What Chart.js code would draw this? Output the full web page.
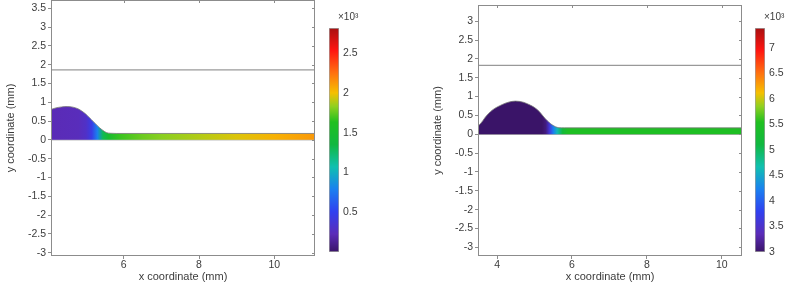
<!DOCTYPE html>
<html>
<head>
<meta charset="utf-8">
<script src="https://cdn.jsdelivr.net/npm/chart.js@4.4.1/dist/chart.umd.min.js"></script>
<style>
  html, body { margin: 0; padding: 0; background: #fff; }
  #wrap { position: relative; width: 790px; height: 285px; overflow: hidden; }
  #wrap canvas { position: absolute; top: 0; }
</style>
</head>
<body>
<div id="wrap">
  <canvas id="left-plot" width="316" height="285" style="left:0px"></canvas>
  <canvas id="left-bar" width="36" height="285" style="left:329px"></canvas>
  <canvas id="right-plot" width="316" height="285" style="left:427px"></canvas>
  <canvas id="right-bar" width="36" height="285" style="left:755px"></canvas>
</div>
<script>
// ---- left panel: surface profile (mm) and field value along x (x10^3)
const leftX = [4.07, 4.2, 4.35, 4.5, 4.65, 4.8, 4.95, 5.05, 5.15, 5.25, 5.35, 5.45, 5.55, 5.65, 5.8, 8, 11.08];
const leftY = [0.81, 0.85, 0.875, 0.885, 0.87, 0.82, 0.72, 0.63, 0.53, 0.43, 0.33, 0.25, 0.19, 0.175, 0.17, 0.17, 0.17];
const leftColorX = [4.07, 4.8, 5.0, 5.15, 5.3, 5.45, 5.6, 5.9, 6.5, 7, 8, 9, 10, 11.08];
const leftColorVal = [0.22, 0.24, 0.3, 0.45, 0.8, 1.3, 1.5, 1.68, 1.77, 1.82, 1.89, 1.96, 2.05, 2.13];
const leftLineY = 1.86;
const leftXRange = [4.07, 11.08];
const leftYRange = [-3.09, 3.72];
const leftXTicks = [6, 8, 10];
const leftYTicks = [-3, -2.5, -2, -1.5, -1, -0.5, 0, 0.5, 1, 1.5, 2, 2.5, 3, 3.5];
const leftBarRange = [0, 2.82];
const leftBarTicks = [0.5, 1, 1.5, 2, 2.5];

// ---- right panel
const rightX = [3.49, 3.55, 3.69, 3.87, 4.14, 4.3, 4.49, 4.7, 4.85, 5.0, 5.12, 5.29, 5.47, 5.65, 5.8, 10.54];
const rightY = [0.22, 0.27, 0.46, 0.64, 0.79, 0.85, 0.88, 0.85, 0.79, 0.71, 0.61, 0.41, 0.25, 0.175, 0.17, 0.17];
const rightColorX = [3.49, 5.2, 5.3, 5.4, 5.5, 5.6, 5.75, 5.9, 10.54];
const rightColorVal = [3.0, 3.0, 3.1, 3.6, 4.2, 4.6, 5.2, 5.5, 5.5];
const rightLineY = 1.83;
const rightXRange = [3.49, 10.54];
const rightYRange = [-3.23, 3.43];
const rightXTicks = [4, 6, 8, 10];
const rightYTicks = [-3, -2.5, -2, -1.5, -1, -0.5, 0, 0.5, 1, 1.5, 2, 2.5, 3];
const rightBarRange = [3, 7.39];
const rightBarTicks = [3, 3.5, 4, 4.5, 5, 5.5, 6, 6.5, 7];

// rainbow colour map (style)
const cmapAt = [0, 0.08, 0.18, 0.28, 0.38, 0.48, 0.58, 0.65, 0.71, 0.8, 0.9, 1];
const cmapHex = ['#3a1468', '#5b2cb8', '#3040f0', '#1a80f0', '#10c0b0', '#10b840', '#20c020', '#90d020', '#f5c000', '#ff7010', '#ff1510', '#a81010'];

const textColor = '#3c3c3c';
const frameColor = '#8c8c8c';

function hexRgb(h) {
    return [parseInt(h.substr(1, 2), 16), parseInt(h.substr(3, 2), 16), parseInt(h.substr(5, 2), 16)];
}

function colorFor(v, range) {
    let t = (v - range[0]) / (range[1] - range[0]);
    t = Math.max(0, Math.min(1, t));
    for (let i = 1; i < cmapAt.length; i++) {
        if (t <= cmapAt[i]) {
            const f = (t - cmapAt[i - 1]) / (cmapAt[i] - cmapAt[i - 1]);
            const a = hexRgb(cmapHex[i - 1]), b = hexRgb(cmapHex[i]);
            const c = a.map((n, k) => Math.round(n + (b[k] - n) * f));
            return 'rgb(' + c.join(',') + ')';
        }
    }
    return cmapHex[cmapHex.length - 1];
}

function fieldGradient(chart, p) {
    if (!chart.chartArea) return null;
    const xs = chart.scales.x;
    const first = p.colorX[0], last = p.colorX[p.colorX.length - 1];
    const g = chart.ctx.createLinearGradient(xs.getPixelForValue(first), 0, xs.getPixelForValue(last), 0);
    p.colorX.forEach((x, i) => {
        g.addColorStop((x - first) / (last - first), colorFor(p.colorVal[i], p.barRange));
    });
    return g;
}

// frame round the plot with inward ticks on top and right
const framePlugin = {
    id: 'frame',
    afterDraw(chart) {
        const ctx = chart.ctx, a = chart.chartArea;
        ctx.save();
        ctx.strokeStyle = frameColor;
        ctx.lineWidth = 1;
        ctx.strokeRect(a.left + 0.5, a.top + 0.5, a.right - a.left - 1, a.bottom - a.top - 1);
        ctx.beginPath();
        chart.scales.x.ticks.forEach(t => {
            const px = Math.round(chart.scales.x.getPixelForValue(t.value)) + 0.5;
            ctx.moveTo(px, a.top);
            ctx.lineTo(px, a.top + 3);
        });
        chart.scales.y.ticks.forEach(t => {
            const py = Math.round(chart.scales.y.getPixelForValue(t.value)) + 0.5;
            ctx.moveTo(a.right, py);
            ctx.lineTo(a.right - 3, py);
        });
        ctx.stroke();
        ctx.restore();
    }
};

function makePlot(id, p) {
    const ctx = document.getElementById(id).getContext('2d');
    return new Chart(ctx, {
        type: 'line',
        data: {
            datasets: [{
                data: p.x.map((x, i) => ({ x: x, y: p.y[i] })),
                fill: 'origin',
                backgroundColor: c => fieldGradient(c.chart, p),
                borderColor: 'rgba(120,120,120,0.8)',
                borderWidth: 1,
                pointRadius: 0,
                cubicInterpolationMode: 'monotone'
            }, {
                data: [{ x: p.xRange[0], y: 0 }, { x: p.xRange[1], y: 0 }],
                borderColor: '#9a9a9a',
                borderWidth: 1,
                pointRadius: 0,
                fill: false
            }, {
                data: [{ x: p.xRange[0], y: p.lineY }, { x: p.xRange[1], y: p.lineY }],
                borderColor: '#808080',
                borderWidth: 1,
                pointRadius: 0,
                fill: false
            }]
        },
        options: {
            responsive: false,
            animation: false,
            layout: { padding: { top: p.padTop, right: 1, left: 0, bottom: 0 } },
            plugins: { legend: { display: false }, tooltip: { enabled: false } },
            scales: {
                x: {
                    type: 'linear',
                    min: p.xRange[0],
                    max: p.xRange[1],
                    afterBuildTicks: s => { s.ticks = p.xTicks.map(v => ({ value: v })); },
                    afterFit: s => { s.height = 29; s.paddingLeft = 0; s.paddingRight = 0; },
                    grid: { drawOnChartArea: false, tickLength: 3, color: frameColor },
                    border: { display: false },
                    ticks: { color: textColor, font: { family: 'Liberation Sans', size: 10.5 }, padding: 0, maxRotation: 0, callback: v => String(v) },
                    title: { display: true, text: 'x coordinate (mm)', color: textColor, font: { family: 'Liberation Sans', size: 11 }, padding: 1 }
                },
                y: {
                    type: 'linear',
                    min: p.yRange[0],
                    max: p.yRange[1],
                    afterBuildTicks: s => { s.ticks = p.yTicks.map(v => ({ value: v })); },
                    afterFit: s => { s.width = 51; s.paddingTop = 0; s.paddingBottom = 0; },
                    grid: { drawOnChartArea: false, tickLength: 3, color: frameColor },
                    border: { display: false },
                    ticks: { color: textColor, font: { family: 'Liberation Sans', size: 10.5 }, padding: 2, callback: v => String(v) },
                    title: { display: true, text: 'y coordinate (mm)', color: textColor, font: { family: 'Liberation Sans', size: 11 }, padding: 4 }
                }
            }
        },
        plugins: [framePlugin]
    });
}

const unitPlugin = {
    id: 'unit',
    afterDraw(chart) {
        const ctx = chart.ctx, a = chart.chartArea;
        ctx.save();
        ctx.fillStyle = textColor;
        ctx.font = '10px "Liberation Sans"';
        ctx.textAlign = 'left';
        ctx.textBaseline = 'middle';
        ctx.fillText('×10³', a.right - 1, a.top - 11);
        ctx.restore();
    }
};

function makeBar(id, range, ticks) {
    const ctx = document.getElementById(id).getContext('2d');
    return new Chart(ctx, {
        type: 'bar',
        data: {
            labels: [''],
            datasets: [{
                data: [[range[0], range[1]]],
                backgroundColor: c => {
                    const chart = c.chart;
                    if (!chart.chartArea) return null;
                    const ys = chart.scales.y;
                    const g = chart.ctx.createLinearGradient(0, ys.getPixelForValue(range[0]), 0, ys.getPixelForValue(range[1]));
                    cmapAt.forEach((t, i) => g.addColorStop(t, cmapHex[i]));
                    return g;
                },
                borderColor: '#a0a0a0',
                borderWidth: 1,
                borderSkipped: false,
                barPercentage: 1,
                categoryPercentage: 1
            }]
        },
        options: {
            responsive: false,
            animation: false,
            layout: { padding: { top: 28, bottom: 33, left: 0, right: 0 } },
            plugins: { legend: { display: false }, tooltip: { enabled: false } },
            scales: {
                x: { display: false },
                y: {
                    position: 'right',
                    min: range[0],
                    max: range[1],
                    afterBuildTicks: s => { s.ticks = ticks.map(v => ({ value: v })); },
                    afterFit: s => { s.width = 26; s.paddingTop = 0; s.paddingBottom = 0; },
                    grid: { display: false, drawTicks: false },
                    border: { display: false },
                    ticks: { color: textColor, font: { family: 'Liberation Sans', size: 10.5 }, padding: 4, callback: v => String(v) }
                }
            }
        },
        plugins: [unitPlugin]
    });
}

makePlot('left-plot', {
    x: leftX, y: leftY, colorX: leftColorX, colorVal: leftColorVal, barRange: leftBarRange,
    lineY: leftLineY, xRange: leftXRange, yRange: leftYRange, xTicks: leftXTicks, yTicks: leftYTicks, padTop: 0
});
makePlot('right-plot', {
    x: rightX, y: rightY, colorX: rightColorX, colorVal: rightColorVal, barRange: rightBarRange,
    lineY: rightLineY, xRange: rightXRange, yRange: rightYRange, xTicks: rightXTicks, yTicks: rightYTicks, padTop: 5
});
makeBar('left-bar', leftBarRange, leftBarTicks);
makeBar('right-bar', rightBarRange, rightBarTicks);
</script>
</body>
</html>
